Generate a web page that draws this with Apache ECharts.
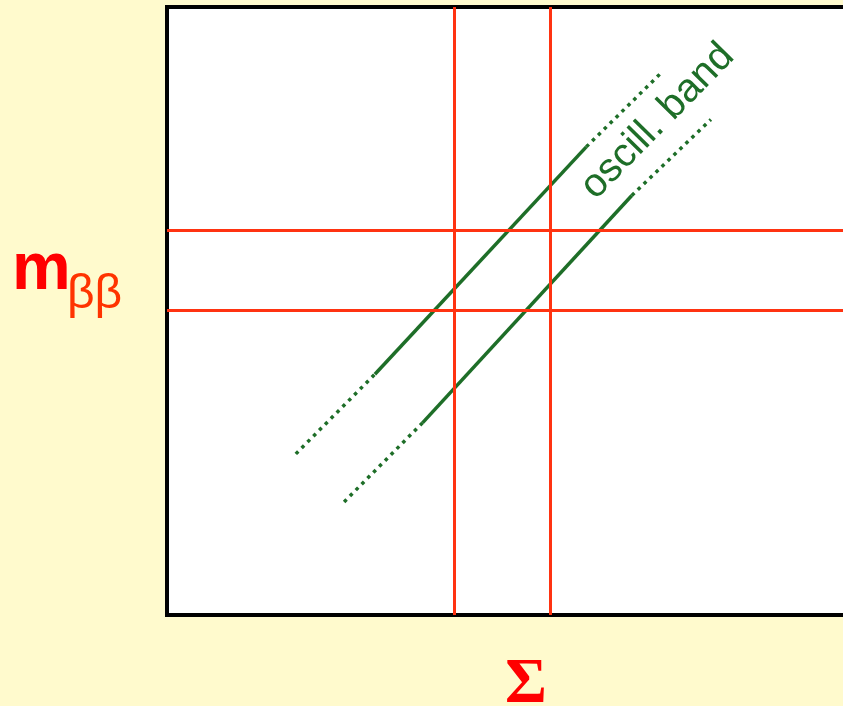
<!DOCTYPE html>
<html>
<head>
<meta charset="utf-8">
<script src="https://cdn.jsdelivr.net/npm/echarts@6/dist/echarts.min.js"></script>
<style>
  html, body { margin: 0; padding: 0; background: #FFFACD; }
  #chart { width: 843px; height: 706px; }
</style>
</head>
<body>
<div id="chart"></div>
<script>
// Constraint lines in (Σ, mββ) plane, arbitrary units
const sigmaLimits = [4.11, 5.48];      // vertical red lines
const mbbLimits = [6.33, 5.01];        // horizontal red lines

// Upper edge of the oscillation band: dotted tail, solid core, dotted head
const upperTail = [[1.84, 2.65], [2.97, 3.96]];
const upperCore = [[2.97, 3.96], [5.99, 7.70]];
const upperHead = [[5.99, 7.70], [7.08, 8.94]];

// Lower edge of the oscillation band
const lowerTail = [[2.53, 1.86], [3.65, 3.16]];
const lowerCore = [[3.65, 3.16], [6.64, 6.90]];
const lowerHead = [[6.64, 6.90], [7.77, 8.15]];

const bandLabel = { text: 'oscill. band', at: [7.01, 8.12] };

const RED = '#FF3311';
const GREEN = '#1E6E28';

function edge(data, dotted) {
  return {
    type: 'line',
    data: data,
    symbol: 'none',
    silent: true,
    animation: false,
    lineStyle: {
      color: GREEN,
      width: 3.5,
      opacity: 1,
      type: dotted ? [3.5, 4.8] : 'solid',
      cap: 'butt'
    },
    z: 3
  };
}

const chart = echarts.init(document.getElementById('chart'), null, { renderer: 'canvas' });

chart.setOption({
  backgroundColor: '#FFFACD',
  animation: false,
  grid: {
    left: 167, top: 7, width: 700, height: 608,
    outerBoundsMode: 'none',
    containLabel: false,
    show: true,
    backgroundColor: '#FFFFFF',
    borderColor: '#000000',
    borderWidth: 4
  },
  xAxis: {
    type: 'value', min: 0, max: 10,
    axisLine: { show: false }, axisTick: { show: false },
    axisLabel: { show: false }, splitLine: { show: false }
  },
  yAxis: {
    type: 'value', min: 0, max: 10,
    axisLine: { show: false }, axisTick: { show: false },
    axisLabel: { show: false }, splitLine: { show: false }
  },
  series: [
    {
      type: 'line',
      data: [],
      silent: true,
      markLine: {
        symbol: 'none',
        silent: true,
        label: { show: false },
        lineStyle: { color: RED, width: 3, type: 'solid', opacity: 1 },
        data: sigmaLimits.map(v => ({ xAxis: v }))
          .concat(mbbLimits.map(v => ({ yAxis: v })))
      },
      z: 2
    },
    edge(upperTail, true),
    edge(upperCore, false),
    edge(upperHead, true),
    edge(lowerTail, true),
    edge(lowerCore, false),
    edge(lowerHead, true),
    {
      type: 'scatter',
      data: [bandLabel.at],
      symbolSize: 0,
      silent: true,
      itemStyle: { opacity: 1 },
      label: {
        show: true,
        position: 'inside',
        formatter: bandLabel.text,
        rotate: 45.5,
        align: 'center',
        verticalAlign: 'middle',
        color: GREEN,
        opacity: 1,
        fontFamily: 'Liberation Sans, Arial, sans-serif',
        fontSize: 40
      },
      z: 4
    }
  ],
  graphic: [
    {
      type: 'text',
      left: 12, top: 238,
      style: {
        text: 'm',
        font: 'bold 66px "Liberation Sans", Arial, sans-serif',
        fill: '#FF0000'
      }
    },
    {
      type: 'text',
      left: 67, top: 271,
      style: {
        text: 'ββ',
        font: '48px "Liberation Sans", Arial, sans-serif',
        fill: '#FF3300'
      }
    },
    {
      type: 'text',
      left: 505, top: 653,
      style: {
        text: 'Σ',
        font: 'bold 64px "Liberation Serif", "Times New Roman", serif',
        fill: '#FF0000'
      }
    }
  ]
});
</script>
</body>
</html>
